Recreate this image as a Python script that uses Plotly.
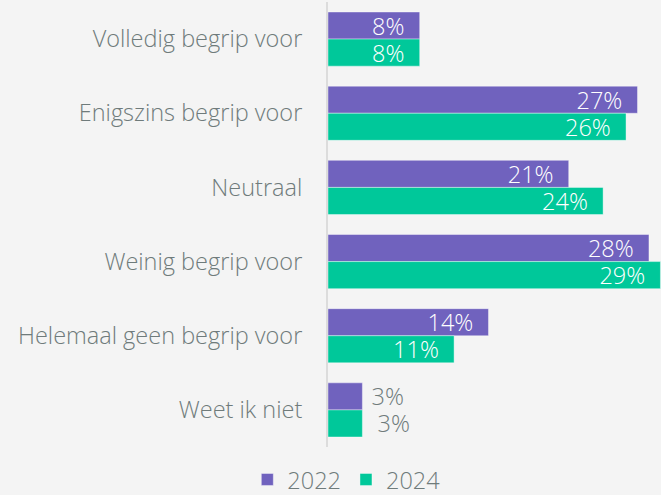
import plotly.graph_objects as go

categories = ["Volledig begrip voor", "Enigszins begrip voor", "Neutraal",
              "Weinig begrip voor", "Helemaal geen begrip voor", "Weet ik niet"]
values_2022 = [8, 27, 21, 28, 14, 3]
values_2024 = [8, 26, 24, 29, 11, 3]
series_names = ["2022", "2024"]

PURPLE = "#7062BE"
GREEN = "#00C89A"
GRAY = "#6F7B7B"
BG = "#F4F4F4"
FONT = "Open Sans"
FS = 23.5
NB = "\u00a0"


def labels(vals, lead):
    out = []
    for v in vals:
        if v >= 5:
            out.append(f"{v}%" + NB * 2)
        else:
            out.append(NB * lead + f"{v}%")
    return out


def pos(vals):
    return ["inside" if v >= 5 else "outside" for v in vals]


fig = go.Figure()
for name, vals, col, lead in [(series_names[0], values_2022, PURPLE, 1),
                              (series_names[1], values_2024, GREEN, 2)]:
    fig.add_trace(go.Bar(
        y=categories, x=vals, name=name, orientation="h",
        marker=dict(color=col, line=dict(color="rgba(255,255,255,0.5)", width=0.8)),
        text=labels(vals, lead), textposition=pos(vals),
        insidetextanchor="end", constraintext="none", textangle=0,
        insidetextfont=dict(color="white", size=FS, family=FONT, weight=300),
        outsidetextfont=dict(color=GRAY, size=FS, family=FONT, weight=300),
        cliponaxis=True, hoverinfo="skip",
    ))

fig.update_layout(
    width=661, height=495,
    margin=dict(l=328, r=0, t=2, b=48, autoexpand=False),
    paper_bgcolor=BG, plot_bgcolor=BG,
    barmode="group", bargap=0.27, bargroupgap=0,
    font=dict(family=FONT, color=GRAY, size=FS, weight=300),
    showlegend=True,
    legend=dict(orientation="h", x=0.055, xanchor="center", y=-0.024, yanchor="top",
                font=dict(size=FS, color=GRAY, family=FONT, weight=300), traceorder="normal"),
    xaxis=dict(range=[0, 29.05], visible=False, showgrid=False, zeroline=False),
    yaxis=dict(autorange="reversed", showline=True, linecolor="#DCDCDC", linewidth=2,
               showgrid=False, ticks="", ticklabelstandoff=19,
               tickfont=dict(size=FS, color=GRAY, family=FONT, weight=300)),
)

fig.write_html(
    "out.html",
    config={"displayModeBar": False},
    post_script="document.body.style.margin='0';document.body.style.background='#F4F4F4';",
)
